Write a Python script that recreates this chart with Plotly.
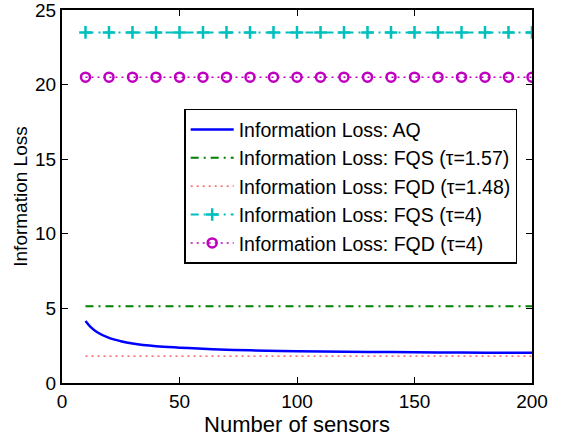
import plotly.graph_objects as go

# AQ curve
aq_x = [10, 12, 15, 20, 25, 30, 40, 50, 60, 70, 80, 100, 120, 140, 160, 180, 200]
aq_y = [4.15, 3.78, 3.40, 3.02, 2.80, 2.65, 2.47, 2.37, 2.29, 2.23, 2.19, 2.13, 2.09, 2.07, 2.05, 2.03, 2.02]

flat_x = [10, 20, 30, 40, 50, 60, 70, 80, 90, 100, 110, 120, 130, 140, 150, 160, 170, 180, 190, 200]
fqs157_y = [5.15] * 20
fqd148_y = [1.8] * 20
fqs4_y = [23.5] * 20
fqd4_y = [20.5] * 20

x_ticks = [0, 50, 100, 150, 200]
y_ticks = [0, 5, 10, 15, 20, 25]

FONT = "Liberation Sans, Arial, sans-serif"

fig = go.Figure()
fig.add_trace(go.Scatter(x=aq_x, y=aq_y, mode="lines", line=dict(color="#0000FF", width=2.5, shape="spline"),
                         name="Information Loss: AQ"))
fig.add_trace(go.Scatter(x=flat_x, y=fqs157_y, mode="lines", line=dict(color="#008000", width=2, dash="8px,5px,2px,5px"),
                         name="Information Loss: FQS (τ=1.57)"))
fig.add_trace(go.Scatter(x=flat_x, y=fqd148_y, mode="lines", line=dict(color="#FF4040", width=1.2, dash="2px,4px"),
                         name="Information Loss: FQD (τ=1.48)"))
fig.add_trace(go.Scatter(x=flat_x, y=fqs4_y, mode="lines+markers", line=dict(color="#00BFBF", width=2, dash="8px,5px,2px,5px"),
                         marker=dict(symbol="cross-thin-open", size=9, line=dict(color="#00BFBF", width=2.5)),
                         name="Information Loss: FQS (τ=4)"))
fig.add_trace(go.Scatter(x=flat_x, y=fqd4_y, mode="lines+markers", line=dict(color="#BF00BF", width=1.5, dash="2px,4px"),
                         marker=dict(symbol="circle-open", size=9, line=dict(color="#BF00BF", width=2.5)),
                         name="Information Loss: FQD (τ=4)"))

axis_common = dict(showline=True, linecolor="black", linewidth=2, mirror="allticks", ticks="inside",
                   ticklen=6, tickwidth=1, tickcolor="black", showgrid=False, zeroline=False,
                   automargin=False, ticklabeloverflow="allow",
                   tickfont=dict(family=FONT, size=19, color="black"))

fig.update_layout(
    width=561, height=438,
    margin=dict(l=62, r=29, t=10, b=55),
    paper_bgcolor="white", plot_bgcolor="white",
    font=dict(family=FONT, color="black"),
    xaxis=dict(range=[0, 200], tickvals=x_ticks,
               title=dict(text="Number of sensors", font=dict(family=FONT, size=22), standoff=2), **axis_common),
    yaxis=dict(range=[0, 25], tickvals=y_ticks,
               title=dict(text="Information Loss", font=dict(family=FONT, size=19), standoff=2), **axis_common),
    legend=dict(x=0.26, y=0.735, xanchor="left", yanchor="top", bgcolor="white",
                bordercolor="black", borderwidth=1.5, font=dict(family=FONT, size=19.5),
                itemwidth=43, tracegroupgap=0, entrywidth=297, entrywidthmode="pixels"),
    showlegend=True,
)

fig.write_html("out.html")
